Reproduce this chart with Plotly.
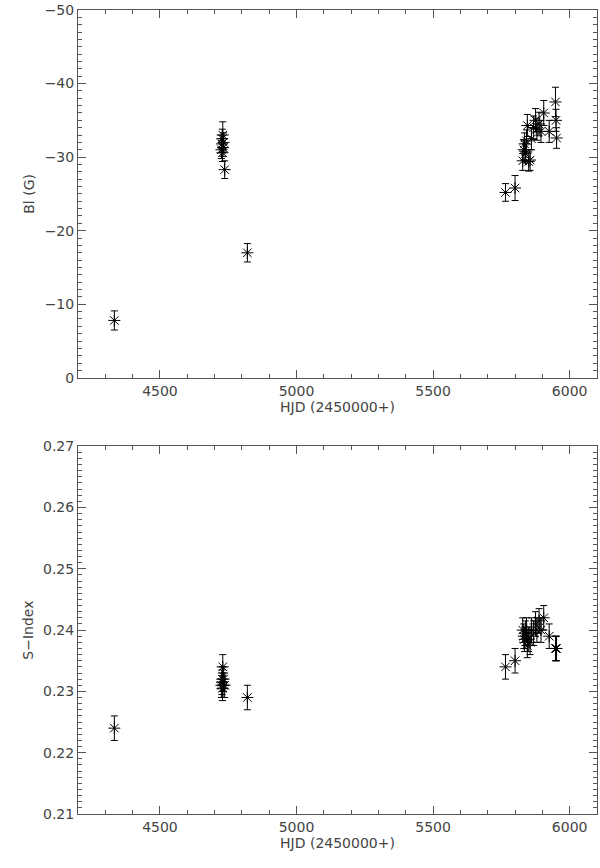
import plotly.graph_objects as go

# ---- data ----
hjd = [4333, 4725, 4727, 4728, 4729, 4730, 4731, 4733, 4737, 4820,
       5765, 5800, 5828, 5832, 5835, 5838, 5842, 5845, 5850, 5855, 5860,
       5868, 5875, 5880, 5888, 5895, 5905, 5925, 5948, 5950, 5952]
bl = [-7.8, -31.0, -31.8, -32.5, -30.6, -33.0, -31.3, -32.0, -28.3, -17.0,
      -25.2, -25.8, -29.5, -31.0, -31.8, -30.5, -32.2, -34.3, -29.4, -29.6, -32.5,
      -34.0, -35.0, -33.8, -34.5, -33.5, -36.0, -33.5, -37.5, -35.0, -32.6]
bl_err = [1.3, 1.2, 1.2, 1.3, 1.2, 1.8, 1.2, 1.3, 1.2, 1.25,
          1.2, 1.7, 1.3, 1.4, 1.5, 1.3, 1.5, 1.5, 1.3, 1.4, 1.5,
          1.6, 1.6, 1.5, 1.6, 1.5, 1.7, 1.5, 2.0, 1.5, 1.4]
s_index = [0.224, 0.231, 0.2315, 0.232, 0.2305, 0.234, 0.231, 0.232, 0.231, 0.229,
           0.234, 0.235, 0.240, 0.239, 0.2385, 0.2395, 0.240, 0.2375, 0.2385, 0.238, 0.240,
           0.2395, 0.241, 0.240, 0.2415, 0.240, 0.242, 0.239, 0.237, 0.237, 0.237]
s_err = [0.002] * len(hjd)

x_title = "HJD (2450000+)"
y1_title = "Bl (G)"
y2_title = "S−Index"

fig = go.Figure()

marker = dict(symbol="asterisk-open", size=10, color="black",
              line=dict(color="black", width=1))
eb = dict(type="data", thickness=1, width=3.5, color="black")

fig.add_trace(go.Scatter(x=hjd, y=bl, mode="markers", marker=marker,
                         error_y=dict(array=bl_err, **eb),
                         xaxis="x", yaxis="y", showlegend=False))
fig.add_trace(go.Scatter(x=hjd, y=s_index, mode="markers", marker=marker,
                         error_y=dict(array=s_err, **eb),
                         xaxis="x2", yaxis="y2", showlegend=False))

font = dict(family="DejaVu Sans", size=14, color="#444")
axcommon = dict(showline=True, linecolor="#555", linewidth=1, mirror="allticks",
                ticks="inside", tickcolor="#555", ticklen=8, tickwidth=1,
                showgrid=False, zeroline=False, tickfont=font)

fig.update_layout(
    width=600, height=868,
    margin=dict(l=78, r=2, t=3, b=54),
    paper_bgcolor="white", plot_bgcolor="white",
    font=font,
    xaxis=dict(domain=[0, 1], anchor="y", range=[4200, 6100], dtick=500, tick0=0,
               minor=dict(dtick=100, ticklen=4, ticks="inside", tickcolor="#555"),
               title=dict(text=x_title, font=font, standoff=2), **axcommon),
    yaxis=dict(domain=[0.5425, 1], anchor="x", range=[0, -50], dtick=10, tick0=0,
               minor=dict(dtick=1, ticklen=4, ticks="inside", tickcolor="#555"),
               title=dict(text=y1_title, font=font, standoff=6), **axcommon),
    xaxis2=dict(domain=[0, 1], anchor="y2", range=[4200, 6100], dtick=500, tick0=0,
                minor=dict(dtick=100, ticklen=4, ticks="inside", tickcolor="#555"),
                title=dict(text=x_title, font=font, standoff=2), **axcommon),
    yaxis2=dict(domain=[0, 0.4575], anchor="x2", range=[0.21, 0.27], dtick=0.01, tick0=0,
                tickformat=".2f",
                minor=dict(dtick=0.001, ticklen=4, ticks="inside", tickcolor="#555"),
                title=dict(text=y2_title, font=font, standoff=6), **axcommon),
)

fig.write_html("out.html", config={"displayModeBar": False},
               post_script="document.body.style.margin='0';document.body.style.overflow='hidden';")
